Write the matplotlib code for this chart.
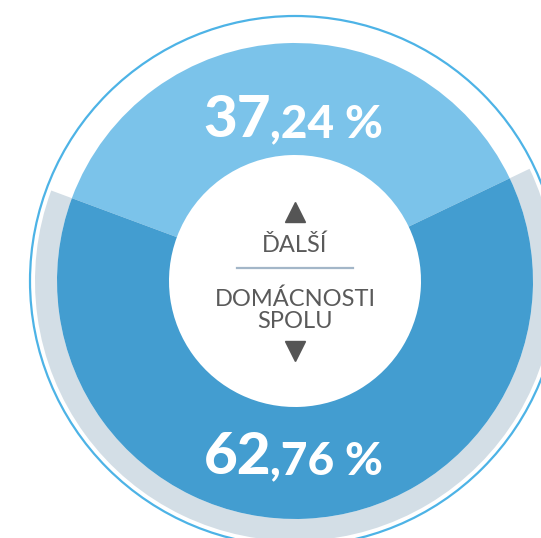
import matplotlib.pyplot as plt
from matplotlib.patches import Circle

# shares of households (light = další, dark = domácnosti spolu)
shares = [37.24, 62.76]
big_parts = ["37", "62"]
small_parts = [",24 %", ",76 %"]
center_top = "ĎALŠÍ"
center_bottom = ["DOMÁCNOSTI", "SPOLU"]

light = "#7bc3ea"
dark = "#439dd0"
grey = "#d3dee6"
ring = "#4db3e6"

W, H = 541, 538
fig = plt.figure(figsize=(W / 100, H / 100), dpi=100)
ax = fig.add_axes([0, 0, 1, 1])

cx, cy = 295, H - 281
mid_angle = 92.6
start = mid_angle - shares[0] * 3.6 / 2

# grey band behind the dark part only
ax.pie(shares, radius=260, center=(cx, cy), startangle=start,
       colors=["none", grey], wedgeprops=dict(width=22, linewidth=0))
# main donut
ax.pie(shares, radius=238, center=(cx, cy), startangle=start,
       colors=[light, dark], wedgeprops=dict(width=112, linewidth=0))

ax.add_patch(Circle((cx, cy), 265, fill=False, edgecolor=ring, lw=1.6))

ax.set_xlim(0, W)
ax.set_ylim(0, H)
ax.set_aspect("equal")
ax.axis("off")

# big percentage labels
big_font = dict(family="Lato", fontweight="black", color="white")
for base_y, big, small in [(H - 137, big_parts[0], small_parts[0]),
                           (H - 474, big_parts[1], small_parts[1])]:
    ax.text(271, base_y, big, ha="right", va="baseline", fontsize=42, **big_font)
    ax.text(270, base_y, small, ha="left", va="baseline", fontsize=33, **big_font)

# centre labels
txt_font = dict(family="Lato", fontweight="normal", color="#5a5a5a")
ax.text(cx, H - 252, center_top, ha="center", va="baseline", fontsize=17, **txt_font)
ax.text(cx, H - 306, center_bottom[0], ha="center", va="baseline", fontsize=17, **txt_font)
ax.text(cx, H - 328, center_bottom[1], ha="center", va="baseline", fontsize=17, **txt_font)
ax.plot([237, 353], [H - 268, H - 268], color="#a3b6c8", lw=1.6)

ax.plot([cx], [H - 212], marker="^", ms=15, color="#555555", lw=0)
ax.plot([cx], [H - 351], marker="v", ms=15, color="#555555", lw=0)

fig.savefig("out.png", dpi=100)
